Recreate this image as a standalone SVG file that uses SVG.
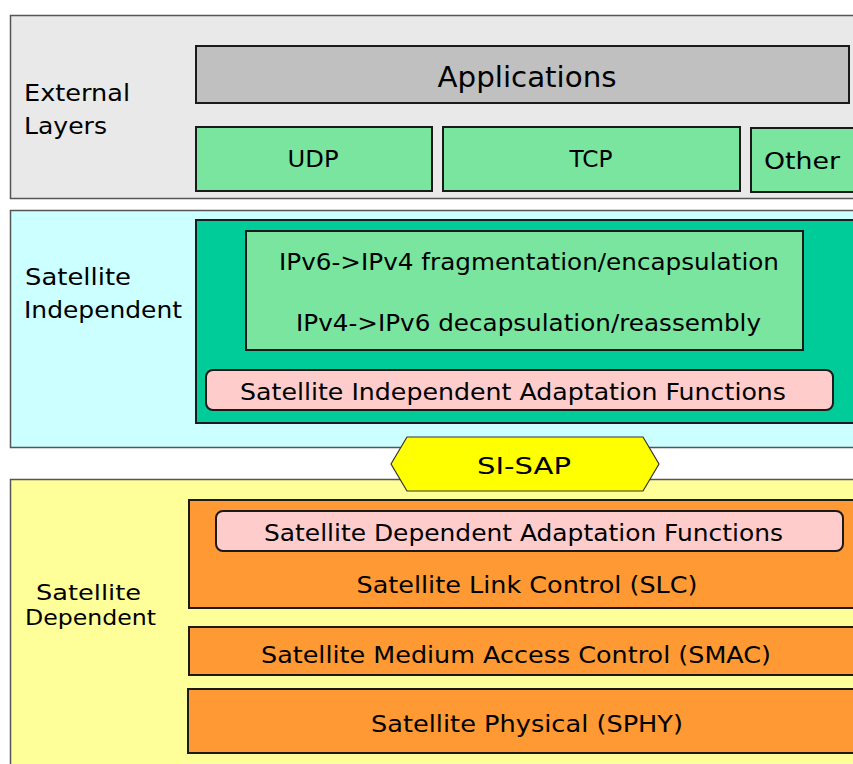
<svg xmlns="http://www.w3.org/2000/svg" width="853" height="764" viewBox="0 0 853 764">
<style>
text{font-family:"DejaVu Sans","Liberation Sans",sans-serif;fill:#000}
.panel{stroke:#555;stroke-width:1.5}
.box{stroke:#1a1a1a;stroke-width:2}
.t22{font-size:23px}
.lbl{font-size:23px}
.c{text-anchor:middle}
</style>
<rect width="853" height="764" fill="#fff"/>
<g id="external-layers">
<rect class="panel" x="10.5" y="15.5" width="850" height="183" fill="#e9e9e9"/>
<text class="lbl" x="24" y="101" textLength="106" lengthAdjust="spacingAndGlyphs">External</text>
<text class="lbl" x="24" y="134" textLength="83" lengthAdjust="spacingAndGlyphs">Layers</text>
</g>
<g id="applications">
<rect class="box" x="196" y="46" width="653" height="57" fill="#c0c0c0"/>
<text class="c" x="527" y="87" font-size="29" textLength="179" lengthAdjust="spacingAndGlyphs">Applications</text>
</g>
<g id="udp">
<rect class="box" x="196" y="127" width="236" height="64" fill="#7ae59e"/>
<text class="c t22" x="313" y="167" textLength="51" lengthAdjust="spacingAndGlyphs">UDP</text>
</g>
<g id="tcp">
<rect class="box" x="443" y="127" width="297" height="64" fill="#7ae59e"/>
<text class="c t22" x="591" y="167" textLength="43" lengthAdjust="spacingAndGlyphs">TCP</text>
</g>
<g id="other">
<rect class="box" x="751" y="128" width="110" height="64" fill="#7ae59e"/>
<text class="t22" x="764" y="169" textLength="76" lengthAdjust="spacingAndGlyphs">Other</text>
</g>
<g id="satellite-independent">
<rect class="panel" x="10.5" y="210.5" width="850" height="237" fill="#ccffff"/>
<text class="lbl" x="25" y="285" textLength="106" lengthAdjust="spacingAndGlyphs">Satellite</text>
<text class="lbl" x="24" y="318" textLength="158" lengthAdjust="spacingAndGlyphs">Independent</text>
</g>
<g id="si-block">
<rect class="box" x="196" y="220" width="665" height="203" fill="#00cc99"/>
</g>
<g id="ip-conversion">
<rect class="box" x="246" y="231" width="557" height="119" fill="#7ae59e"/>
<text class="t22" x="279" y="270" textLength="500" lengthAdjust="spacingAndGlyphs">IPv6-&gt;IPv4 fragmentation/encapsulation</text>
<text class="t22" x="296" y="331" textLength="465" lengthAdjust="spacingAndGlyphs">IPv4-&gt;IPv6 decapsulation/reassembly</text>
</g>
<g id="si-adaptation">
<rect class="box" x="206" y="370" width="627" height="40" rx="7" fill="#ffcccc"/>
<text class="t22" x="240" y="400" textLength="546" lengthAdjust="spacingAndGlyphs">Satellite Independent Adaptation Functions</text>
</g>
<g id="satellite-dependent">
<rect class="panel" x="10.5" y="479.5" width="850" height="290" fill="#ffff99"/>
<text x="36" y="600" font-size="21" textLength="105" lengthAdjust="spacingAndGlyphs">Satellite</text>
<text x="25" y="625" font-size="21" textLength="131" lengthAdjust="spacingAndGlyphs">Dependent</text>
</g>
<g id="si-sap">
<polygon points="391,464 407,437 643,437 659,464 643,491 407,491" fill="#ffff00" stroke="#333" stroke-width="1.2"/>
<text class="c t22" x="524" y="474" textLength="94" lengthAdjust="spacingAndGlyphs">SI-SAP</text>
</g>
<g id="slc">
<rect class="box" x="189" y="500" width="672" height="108" fill="#ff9933"/>
<text class="c t22" x="527" y="593" textLength="341" lengthAdjust="spacingAndGlyphs">Satellite Link Control (SLC)</text>
</g>
<g id="sd-adaptation">
<rect class="box" x="216" y="511" width="627" height="40" rx="7" fill="#ffcccc"/>
<text class="t22" x="264" y="541" textLength="519" lengthAdjust="spacingAndGlyphs">Satellite Dependent Adaptation Functions</text>
</g>
<g id="smac">
<rect class="box" x="189" y="627" width="672" height="48" fill="#ff9933"/>
<text class="c t22" x="516" y="663" textLength="510" lengthAdjust="spacingAndGlyphs">Satellite Medium Access Control (SMAC)</text>
</g>
<g id="sphy">
<rect class="box" x="188" y="689" width="673" height="64" fill="#ff9933"/>
<text class="c t22" x="527" y="732" textLength="312" lengthAdjust="spacingAndGlyphs">Satellite Physical (SPHY)</text>
</g>
<g id="connectors"></g>
</svg>
